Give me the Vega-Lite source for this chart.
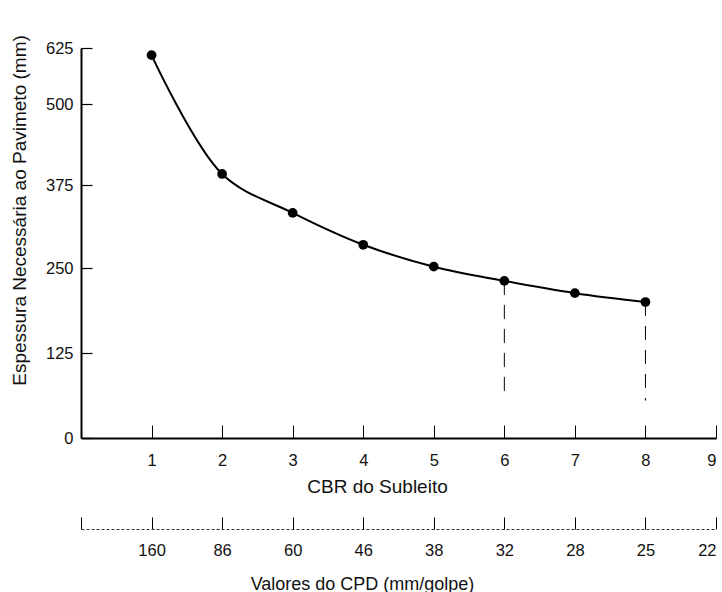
{
  "$schema": "https://vega.github.io/schema/vega-lite/v6.json",
  "width": 635,
  "height": 390,
  "autosize": {"type": "none"},
  "padding": {"left": 81, "top": 48, "right": 6, "bottom": 154},
  "background": "white",
  "config": {
    "view": {"stroke": null},
    "axis": {
      "labelFont": "Liberation Sans",
      "titleFont": "Liberation Sans",
      "labelFontSize": 16.5,
      "titleFontSize": 19,
      "titleFontWeight": "normal",
      "labelColor": "#111",
      "titleColor": "#111",
      "domainColor": "#000",
      "tickColor": "#000",
      "grid": false
    }
  },
  "data": {
    "values": [
      {"cbr": 1, "esp": 609},
      {"cbr": 2, "esp": 392},
      {"cbr": 3, "esp": 333},
      {"cbr": 4, "esp": 285},
      {"cbr": 5, "esp": 252},
      {"cbr": 6, "esp": 231},
      {"cbr": 7, "esp": 213},
      {"cbr": 8, "esp": 200}
    ]
  },
  "encoding": {
    "y": {
      "field": "esp",
      "type": "quantitative",
      "scale": {"domain": [0, 125, 250, 375, 500, 625], "range": [390, 305, 220, 137, 56, 0], "nice": false, "zero": false},
      "axis": {
        "title": "Espessura Necessária ao Pavimeto (mm)",
        "values": [0, 125, 250, 375, 500, 625],
        "domainWidth": 2,
        "tickSize": -11,
        "tickWidth": 1.2,
        "labelPadding": 19,
        "titleAngle": -90,
        "titleX": -56,
        "titleY": 162,
        "titleAlign": "center",
        "titleBaseline": "alphabetic"
      }
    }
  },
  "layer": [
    {
      "mark": {"type": "line", "interpolate": "catmull-rom", "color": "#000", "strokeWidth": 2},
      "encoding": {
        "x": {
          "field": "cbr",
          "type": "quantitative",
          "scale": {"domain": [0, 9], "nice": false, "zero": false},
          "axis": {
            "title": "CBR do Subleito",
            "values": [1, 2, 3, 4, 5, 6, 7, 8, 9],
            "domainWidth": 2,
            "tickSize": -13,
            "tickWidth": 1,
            "labelPadding": 27,
            "titleX": 296,
            "titleY": 54,
            "titleAlign": "center",
            "titleBaseline": "alphabetic"
          }
        }
      }
    },
    {
      "mark": {"type": "point", "filled": true, "color": "#000", "opacity": 1, "size": 95},
      "encoding": {
        "x": {"field": "cbr", "type": "quantitative", "axis": null}
      }
    },
    {
      "transform": [{"filter": "datum.cbr == 6 || datum.cbr == 8"}],
      "mark": {"type": "rule", "color": "#000", "strokeWidth": 1, "strokeDash": [14, 10]},
      "encoding": {
        "x": {"field": "cbr", "type": "quantitative", "axis": null},
        "y2": {"datum": 55}
      }
    },
    {
      "mark": {"type": "point", "opacity": 0},
      "encoding": {
        "x": {
          "field": "cbr",
          "type": "quantitative",
          "axis": {
            "title": "Valores do CPD (mm/golpe)",
            "orient": "bottom",
            "offset": 91,
            "values": [0, 1, 2, 3, 4, 5, 6, 7, 8, 9],
            "labelExpr": "['','160','86','60','46','38','32','28','25','22'][datum.value]",
            "domainWidth": 1,
            "domainColor": "#333",
            "domainDash": [3, 2],
            "tickSize": -12,
            "tickWidth": 1,
            "labelPadding": 25,
            "titleFontSize": 18,
            "titleX": 281,
            "titleY": 60,
            "titleAlign": "center",
            "titleBaseline": "alphabetic"
          }
        }
      }
    }
  ],
  "resolve": {"axis": {"x": "independent"}}
}
